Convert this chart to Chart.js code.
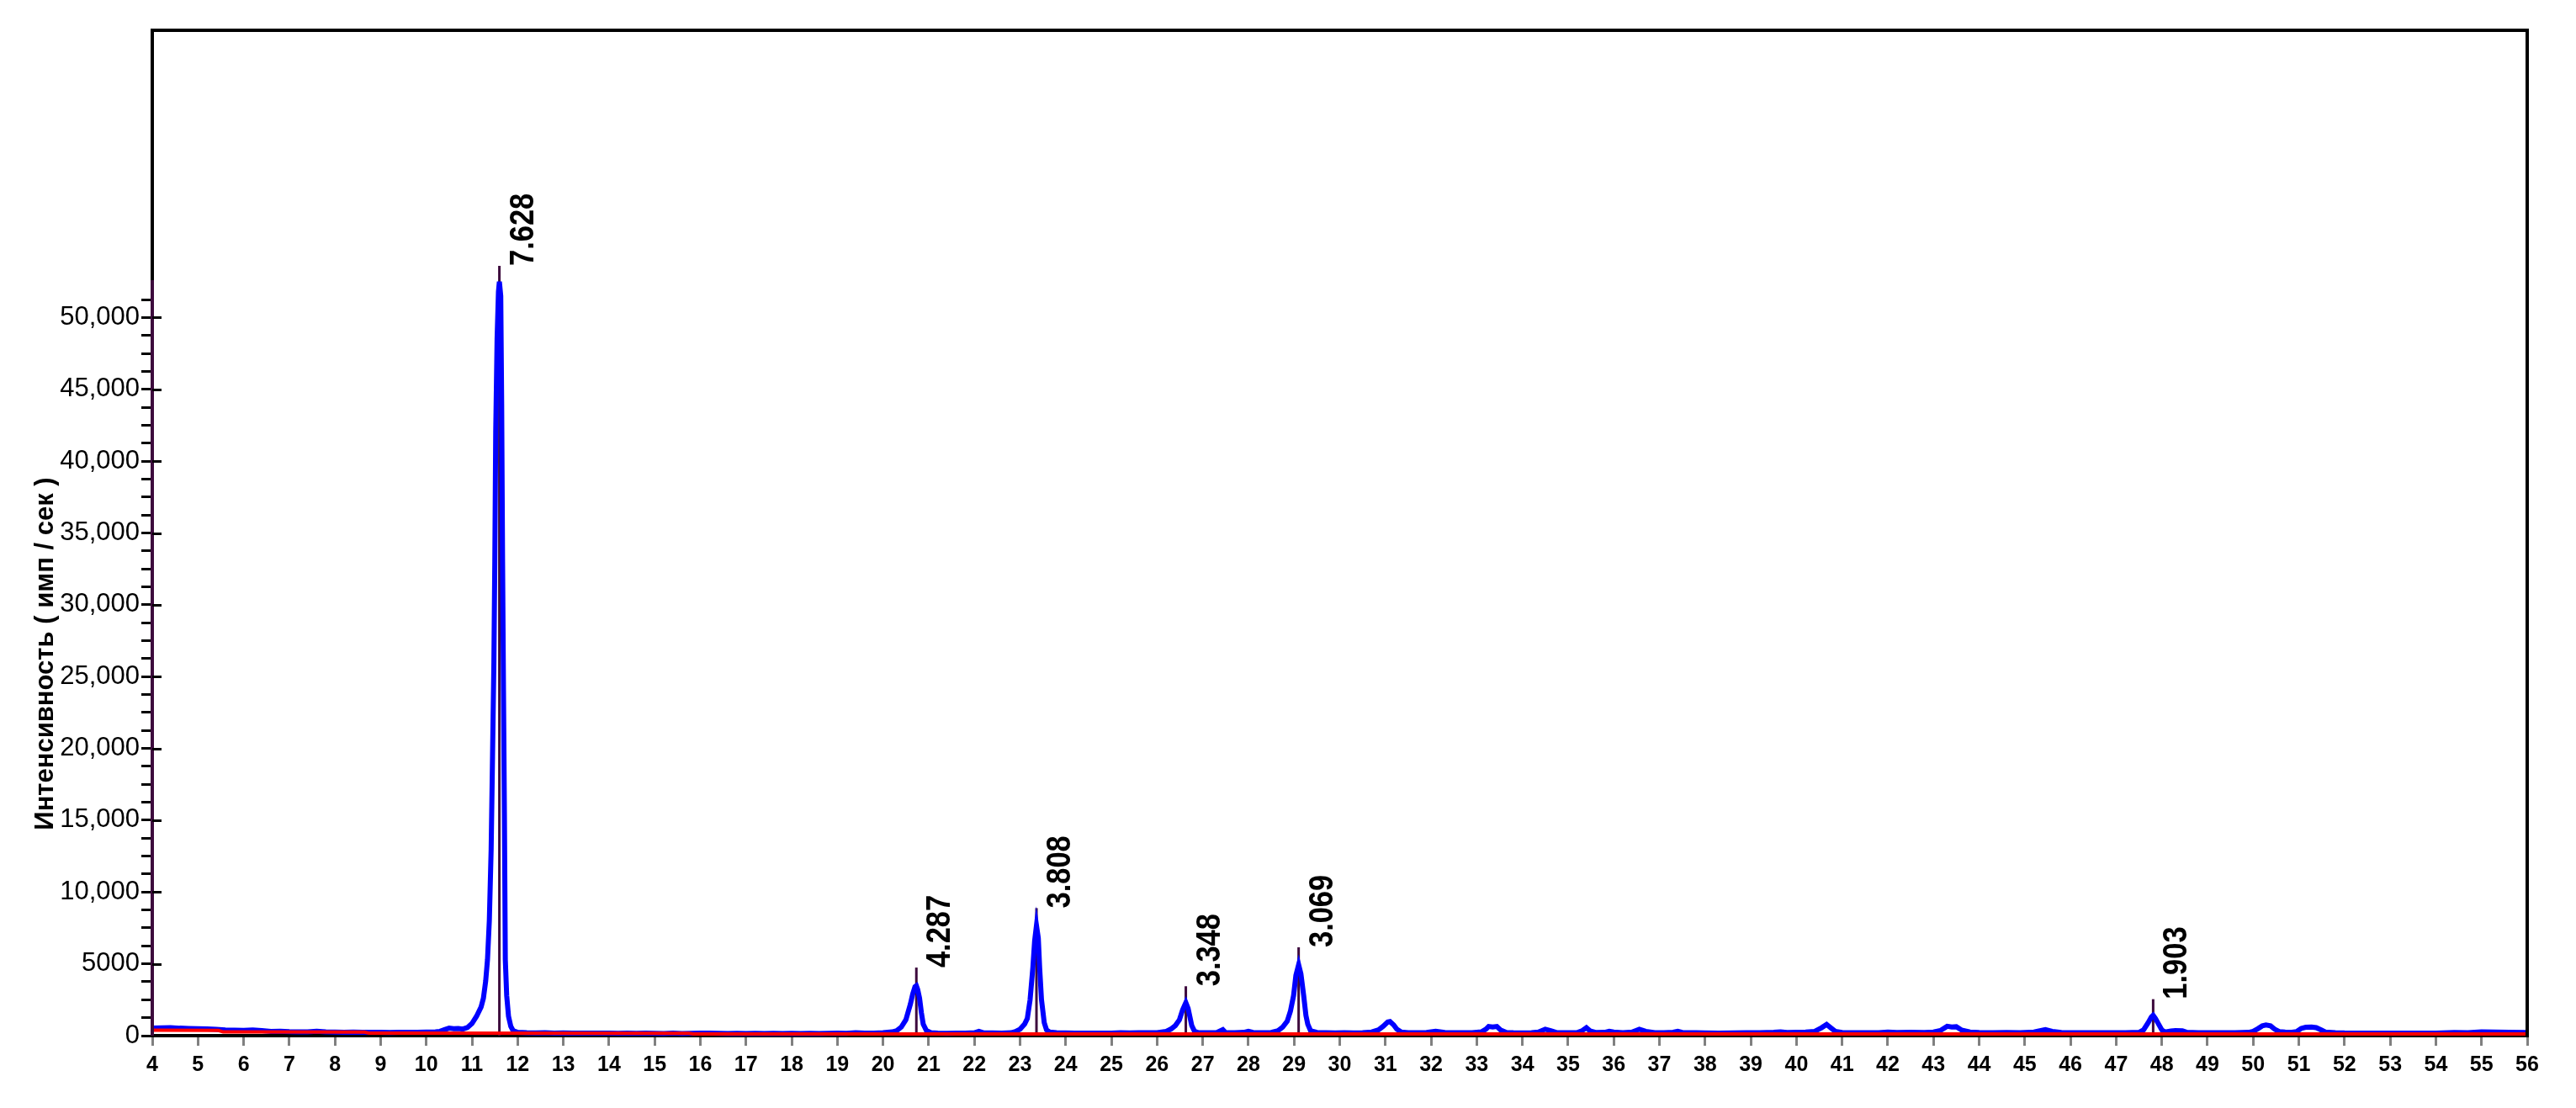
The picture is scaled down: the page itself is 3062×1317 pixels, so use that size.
<!DOCTYPE html>
<html><head><meta charset="utf-8">
<script src="https://cdn.jsdelivr.net/npm/chart.js@4/dist/chart.umd.min.js"></script>
<style>html,body{margin:0;padding:0;background:#fff;}#wrap{width:3062px;height:1317px;position:relative;}</style>
</head><body><div id="wrap"><canvas id="c" width="3062" height="1317"></canvas></div>
<script>
// 2θ (degrees) and measured intensity (counts/s)
const twoTheta = [4.0,4.2,4.4,4.6,4.8,5.0,5.2,5.4,5.6,5.8,6.0,6.2,6.4,6.6,6.8,7.0,7.2,7.4,7.6,7.8,8.0,8.2,8.4,8.6,8.8,9.0,9.2,9.4,9.6,9.8,10.0,10.2,10.3,10.4,10.5,10.6,10.7,10.8,10.9,11.0,11.1,11.2,11.25,11.3,11.34,11.38,11.42,11.45,11.48,11.5,11.52,11.55,11.58,11.6,11.63,11.65,11.67,11.69,11.71,11.73,11.76,11.8,11.85,11.9,12.0,12.2,12.4,12.6,12.8,13.0,13.2,13.4,13.6,13.8,14.0,14.2,14.4,14.6,14.8,15.0,15.2,15.4,15.6,15.8,16.0,16.2,16.4,16.6,16.8,17.0,17.2,17.4,17.6,17.8,18.0,18.2,18.4,18.6,18.8,19.0,19.2,19.4,19.6,19.8,20.0,20.2,20.3,20.4,20.5,20.6,20.65,20.7,20.73,20.76,20.8,20.84,20.88,20.95,21.05,21.2,21.4,21.6,21.8,22.0,22.1,22.2,22.4,22.6,22.8,22.9,23.0,23.1,23.16,23.22,23.28,23.32,23.36,23.4,23.43,23.47,23.53,23.58,23.65,23.8,24.0,24.2,24.4,24.6,24.8,25.0,25.2,25.4,25.6,25.8,26.0,26.2,26.3,26.4,26.49,26.56,26.63,26.68,26.72,26.76,26.82,26.9,27.1,27.3,27.44,27.5,27.7,27.9,28.0,28.1,28.3,28.5,28.65,28.75,28.85,28.92,28.99,29.04,29.1,29.15,29.21,29.26,29.3,29.36,29.5,29.7,29.9,30.1,30.3,30.5,30.7,30.85,30.95,31.05,31.1,31.18,31.25,31.35,31.5,31.7,31.9,32.1,32.3,32.5,32.7,32.9,33.1,33.2,33.26,33.35,33.44,33.52,33.65,33.8,34.0,34.2,34.35,34.5,34.62,34.75,35.0,35.2,35.3,35.4,35.48,35.6,35.8,35.9,36.0,36.2,36.4,36.56,36.7,36.9,37.1,37.3,37.4,37.5,37.8,38.0,38.3,38.6,38.9,39.2,39.5,39.65,39.8,40.0,40.2,40.4,40.55,40.66,40.75,40.85,41.0,41.2,41.5,41.8,42.0,42.2,42.5,42.8,43.0,43.15,43.3,43.4,43.5,43.62,43.8,44.0,44.3,44.6,44.9,45.2,45.45,45.6,45.8,46.0,46.3,46.6,46.9,47.2,47.5,47.6,47.7,47.77,47.81,47.86,47.93,48.0,48.07,48.2,48.3,48.45,48.55,48.8,49.0,49.3,49.6,49.9,50.0,50.1,50.2,50.28,50.38,50.47,50.57,50.7,50.85,50.95,51.05,51.15,51.28,51.38,51.5,51.58,51.8,52.0,52.5,53.0,53.5,54.0,54.4,54.7,55.0,55.3,55.6,56.0];
const intensity = [520,540,560,520,500,480,470,440,400,380,360,390,350,300,310,280,270,260,300,260,250,240,250,240,230,240,220,240,230,240,250,270,300,420,520,490,500,460,560,850,1350,2000,2600,3800,5300,8000,13000,19400,26000,33000,42000,48500,51800,52500,51500,44000,33000,24000,15500,5300,2800,1350,650,350,230,200,190,200,180,190,170,180,170,180,170,160,170,160,170,160,150,170,150,160,180,170,160,150,160,150,160,150,160,150,160,150,160,150,160,170,160,200,170,180,200,260,350,600,1100,2200,2900,3400,3470,3200,2600,1600,800,350,200,170,160,170,180,200,300,200,190,180,200,280,450,800,1200,2500,4700,6600,7670,6800,4700,2500,900,400,250,200,190,180,170,180,170,180,200,190,210,200,210,300,450,700,1100,1800,2300,1900,1300,700,300,210,200,210,420,220,200,230,300,220,200,220,350,600,1000,1700,2800,4200,4940,4300,2800,1400,800,350,220,200,190,200,190,210,250,400,650,950,980,750,450,250,200,210,220,300,220,200,210,200,260,450,640,600,640,400,220,200,190,200,250,450,350,220,200,220,330,550,330,220,230,300,250,210,250,450,300,200,210,240,300,220,200,190,180,190,200,210,230,260,220,230,250,300,550,780,550,300,220,200,210,200,250,220,230,220,250,350,650,600,620,380,250,220,210,220,210,250,420,300,220,200,210,200,210,200,230,400,900,1300,1420,1200,800,400,250,320,350,340,230,200,210,200,210,230,300,480,680,740,680,450,280,250,230,280,500,580,600,560,380,250,210,190,180,170,170,180,220,200,270,250,230,220];
// fitted background (red)
const bgTheta = [4.0,5.45,5.55,8.65,8.75,15.75,15.85,56.0];
const bgIntensity = [380,360,260,250,170,160,120,120];
// labelled reflections: position, marker top, d-spacing label
const peakTheta = [11.60,20.73,23.36,26.63,29.10,47.81];
const peakMarker = [53600,4740,8880,3440,6150,2540];
const peakLabels = ['7.628','4.287','3.808','3.348','3.069','1.903'];
// axis settings
const xMin = 4, xMax = 56, xStep = 1;
const yMax = 70000, yMajorStep = 5000, yMinorStep = 1250, yTickTop = 51250, yAxisTop = 52600;
const yTitle = 'Интенсивность ( имп / сек )';

const FONT = '"Liberation Sans", Arial, sans-serif';
const PURPLE = '#3d0a3d';

const decor = {
  id: 'decor',
  beforeDatasetsDraw(chart) {
    const {ctx, scales: {x, y}} = chart;
    ctx.save();
    ctx.strokeStyle = PURPLE; ctx.lineWidth = 3;
    peakTheta.forEach((t, i) => {
      const px = x.getPixelForValue(t);
      ctx.beginPath();
      ctx.moveTo(px, y.getPixelForValue(0));
      ctx.lineTo(px, y.getPixelForValue(peakMarker[i]));
      ctx.stroke();
    });
    ctx.restore();
  },
  afterDraw(chart) {
    const {ctx, chartArea: a, scales: {x, y}} = chart;
    ctx.save();
    const yTop = y.getPixelForValue(yAxisTop);
    ctx.lineWidth = 4; ctx.strokeStyle = '#000';
    ctx.beginPath();
    ctx.moveTo(a.left, yTop); ctx.lineTo(a.left, a.top); ctx.lineTo(a.right, a.top); ctx.lineTo(a.right, a.bottom + 2);
    ctx.stroke();
    ctx.strokeStyle = PURPLE;
    ctx.beginPath(); ctx.moveTo(a.left, a.bottom); ctx.lineTo(a.left, yTop); ctx.stroke();
    // inner part of major ticks
    ctx.strokeStyle = '#000'; ctx.lineWidth = 3;
    for (let v = yMajorStep; v <= yTickTop; v += yMajorStep) {
      const py = Math.round(y.getPixelForValue(v)) + 0.5;
      ctx.beginPath(); ctx.moveTo(a.left, py); ctx.lineTo(a.left + 11, py); ctx.stroke();
    }
    // peak labels
    ctx.fillStyle = '#000';
    ctx.font = 'bold 41px ' + FONT;
    ctx.textAlign = 'left'; ctx.textBaseline = 'alphabetic';
    peakTheta.forEach((t, i) => {
      const px = x.getPixelForValue(t), py = y.getPixelForValue(peakMarker[i]);
      ctx.save();
      ctx.translate(px + 40, py);
      ctx.rotate(-Math.PI / 2);
      ctx.scale(0.84, 1);
      ctx.fillText(peakLabels[i], 0, 0);
      ctx.restore();
    });
    // y axis title
    ctx.font = 'bold 31px ' + FONT;
    ctx.textAlign = 'center';
    ctx.save(); ctx.translate(63, 777); ctx.rotate(-Math.PI / 2); ctx.fillText(yTitle, 0, 0); ctx.restore();
    ctx.restore();
  }
};

const fmt = v => v >= 10000 ? v.toLocaleString('en-US') : String(v);

new Chart(document.getElementById('c'), {
  type: 'line',
  data: {
    datasets: [
      { label: 'background', data: bgTheta.map((t, i) => ({x: t, y: bgIntensity[i]})),
        borderColor: '#ff0000', borderWidth: 4, pointRadius: 0, tension: 0, order: 0, clip: 6 },
      { label: 'pattern', data: twoTheta.map((t, i) => ({x: t, y: intensity[i]})),
        borderColor: '#0000ff', borderWidth: 6, pointRadius: 0, tension: 0, order: 1, clip: 6 }
    ]
  },
  options: {
    responsive: false, animation: false, devicePixelRatio: 1,
    layout: { padding: { top: 36, right: 58, left: 0, bottom: 0 } },
    plugins: { legend: { display: false }, tooltip: { enabled: false } },
    scales: {
      x: {
        type: 'linear', min: xMin, max: xMax,
        afterFit: s => { s.height = 86; },
        ticks: { stepSize: xStep, autoSkip: false, maxRotation: 0, minRotation: 0, color: '#000', padding: 8,
                 font: { family: FONT, size: 25, weight: 'bold' } },
        grid: { drawOnChartArea: false, drawTicks: true, tickLength: 12, tickWidth: 3, tickColor: '#808080' },
        border: { display: true, color: '#000', width: 4 }
      },
      y: {
        type: 'linear', min: 0, max: yMax,
        afterFit: s => { s.width = 181; },
        afterBuildTicks: s => { s.ticks = s.ticks.filter(t => t.value <= yTickTop); },
        ticks: { stepSize: yMinorStep, autoSkip: false, color: '#000', padding: 2,
                 font: { family: FONT, size: 31 },
                 callback: v => (v % yMajorStep === 0 ? fmt(v) : '') },
        grid: { drawOnChartArea: false, drawTicks: true, tickLength: 13, tickWidth: 3, tickColor: '#000' },
        border: { display: false }
      }
    }
  },
  plugins: [decor]
});
</script>
</body></html>
